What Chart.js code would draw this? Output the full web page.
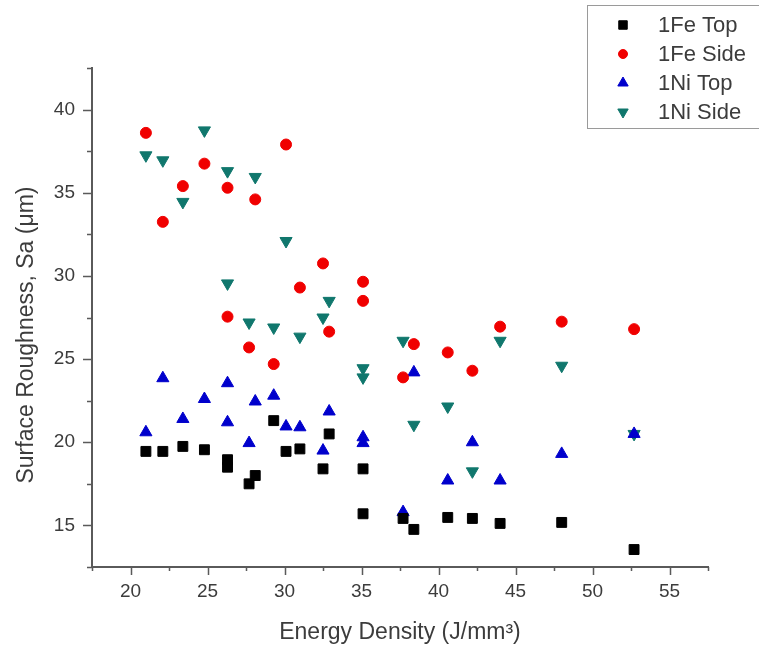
<!DOCTYPE html>
<html>
<head>
<meta charset="utf-8">
<style>
  html, body { margin: 0; padding: 0; background: #fff; }
  #wrap { width: 759px; height: 649px; }
</style>
<script src="https://cdn.jsdelivr.net/npm/chart.js@4.4.1/dist/chart.umd.min.js"></script>
</head>
<body>
<div id="wrap"><canvas id="chart" width="759" height="649"></canvas></div>
<script>
"use strict";

// energy density of each sample (J/mm3), shared by all four series
const energy = [21.0, 22.1, 23.4, 24.8, 26.3, 26.3, 27.7, 28.1, 29.3, 30.1, 31.0,
  32.5, 32.9, 35.1, 35.1, 37.7, 38.4, 40.6, 42.2, 44.0, 48.0, 52.7];
const feTop = [19.45, 19.45, 19.75, 19.55, 18.95, 18.5, 17.5, 18.0, 21.3, 19.45, 19.6,
  18.4, 20.5, 18.4, 15.7, 15.42, 14.76, 15.48, 15.42, 15.12, 15.18, 13.55];
const feSide = [38.6, 33.25, 35.4, 36.75, 35.3, 27.55, 25.7, 34.6, 24.7, 37.9, 29.3,
  30.75, 26.65, 29.65, 28.5, 23.9, 25.9, 25.4, 24.3, 26.95, 27.25, 26.8];
const niTop = [20.6, 23.85, 21.4, 22.6, 23.55, 21.2, 19.95, 22.45, 22.8, 20.95, 20.9,
  19.5, 21.85, 20.3, 19.95, 15.8, 24.2, 17.7, 20.0, 17.7, 19.3, 20.5];
const niSide = [37.25, 36.95, 34.45, 38.75, 36.3, 29.55, 27.2, 35.95, 26.9, 32.1, 26.35,
  27.5, 28.5, 24.45, 23.9, 26.1, 21.05, 22.15, 18.25, 26.1, 24.6, 20.5];

const seriesNames = ["1Fe Top", "1Fe Side", "1Ni Top", "1Ni Side"];
const xTitle = "Energy Density (J/mm\u00B3)";
const yTitle = "Surface Roughness, Sa (\u03BCm)";

const FONT = "'Liberation Sans', Arial, sans-serif";
const axisColor = "#5a5a5a";
const textColor = "#3c3c3c";

const styles = [
  { color: "#000000", pointStyle: "rect", radius: 7, rotation: 0 },
  { color: "#f00000", pointStyle: "circle", radius: 5.5, rotation: 0 },
  { color: "#0000cc", pointStyle: "triangle", radius: 7, rotation: 0 },
  { color: "#10776d", pointStyle: "triangle", radius: 7, rotation: 180 },
];

const isMajor = (v) => Math.abs(v / 5 - Math.round(v / 5)) < 1e-6;

function points(ys) {
  return energy.map((x, i) => ({ x, y: ys[i] }));
}

// tick marks: long at labelled values, short in between
const axisTicks = {
  id: "axisTicks",
  afterDraw(chart) {
    const { ctx, chartArea: a, scales } = chart;
    ctx.save();
    ctx.strokeStyle = axisColor;
    ctx.lineWidth = 1.5;
    ctx.beginPath();
    scales.x.ticks.forEach((t) => {
      const px = Math.round(scales.x.getPixelForValue(t.value)) + 0.5;
      ctx.moveTo(px, a.bottom);
      ctx.lineTo(px, a.bottom + (isMajor(t.value) ? 8 : 4));
    });
    scales.y.ticks.forEach((t) => {
      const py = Math.round(scales.y.getPixelForValue(t.value)) + 0.5;
      ctx.moveTo(a.left, py);
      ctx.lineTo(a.left - (isMajor(t.value) ? 9 : 5), py);
    });
    ctx.stroke();

    // y axis title
    ctx.fillStyle = textColor;
    ctx.font = "23px " + FONT;
    ctx.translate(33, 335);
    ctx.rotate(-Math.PI / 2);
    ctx.textAlign = "center";
    ctx.textBaseline = "alphabetic";
    ctx.fillText(yTitle, 0, 0);
    ctx.restore();
  },
};

// boxed legend in the top right corner
const boxLegend = {
  id: "boxLegend",
  afterDraw(chart) {
    const { ctx } = chart;
    ctx.save();
    ctx.strokeStyle = "#9a9a9a";
    ctx.lineWidth = 1;
    ctx.strokeRect(587.5, 5.5, 200, 123);
    ctx.font = "22px " + FONT;
    ctx.textBaseline = "middle";
    ctx.textAlign = "left";
    chart.data.datasets.forEach((ds, i) => {
      const y = 25 + i * 29;
      const st = styles[i];
      ctx.fillStyle = st.color;
      ctx.strokeStyle = st.color;
      Chart.helpers.drawPoint(ctx, {
        pointStyle: st.pointStyle,
        rotation: st.rotation,
        radius: st.radius - 1,
        borderWidth: 1,
      }, 623, y);
      ctx.fillStyle = textColor;
      ctx.fillText(ds.label, 658, y + 1);
    });
    ctx.restore();
  },
};

const seriesData = [feTop, feSide, niTop, niSide];

new Chart(document.getElementById("chart"), {
  type: "scatter",
  data: {
    datasets: seriesData.map((ys, i) => ({
      label: seriesNames[i],
      data: points(ys),
      pointStyle: styles[i].pointStyle,
      rotation: styles[i].rotation,
      pointRadius: styles[i].radius,
      pointBackgroundColor: styles[i].color,
      pointBorderColor: styles[i].color,
      pointBorderWidth: 1,
      backgroundColor: styles[i].color,
      borderColor: styles[i].color,
    })),
  },
  options: {
    responsive: false,
    animation: false,
    devicePixelRatio: 1,
    layout: { padding: { left: 0, top: 68, right: 51, bottom: 0 } },
    plugins: { legend: { display: false }, tooltip: { enabled: false } },
    scales: {
      x: {
        type: "linear",
        min: 17.5,
        max: 57.5,
        afterFit: (s) => { s.height = 82; },
        ticks: {
          stepSize: 2.5,
          autoSkip: false,
          maxRotation: 0,
          padding: 5,
          color: textColor,
          font: { family: FONT, size: 19 },
          callback: (v) => (isMajor(v) ? String(Math.round(v)) : ""),
        },
        grid: { display: true, drawOnChartArea: false, drawTicks: true, tickLength: 8, tickColor: "rgba(0,0,0,0)" },
        border: { display: true, color: axisColor, width: 2 },
        title: {
          display: true,
          text: xTitle,
          color: textColor,
          font: { family: FONT, size: 23 },
          padding: { top: 0, bottom: 3 },
        },
      },
      y: {
        type: "linear",
        min: 12.5,
        max: 42.5,
        afterFit: (s) => { s.width = 92; },
        ticks: {
          stepSize: 2.5,
          autoSkip: false,
          padding: 9,
          color: textColor,
          font: { family: FONT, size: 19 },
          callback: (v) => (isMajor(v) ? String(Math.round(v)) : ""),
        },
        grid: { display: true, drawOnChartArea: false, drawTicks: true, tickLength: 8, tickColor: "rgba(0,0,0,0)" },
        border: { display: true, color: axisColor, width: 2 },
      },
    },
  },
  plugins: [axisTicks, boxLegend],
});
</script>
</body>
</html>
